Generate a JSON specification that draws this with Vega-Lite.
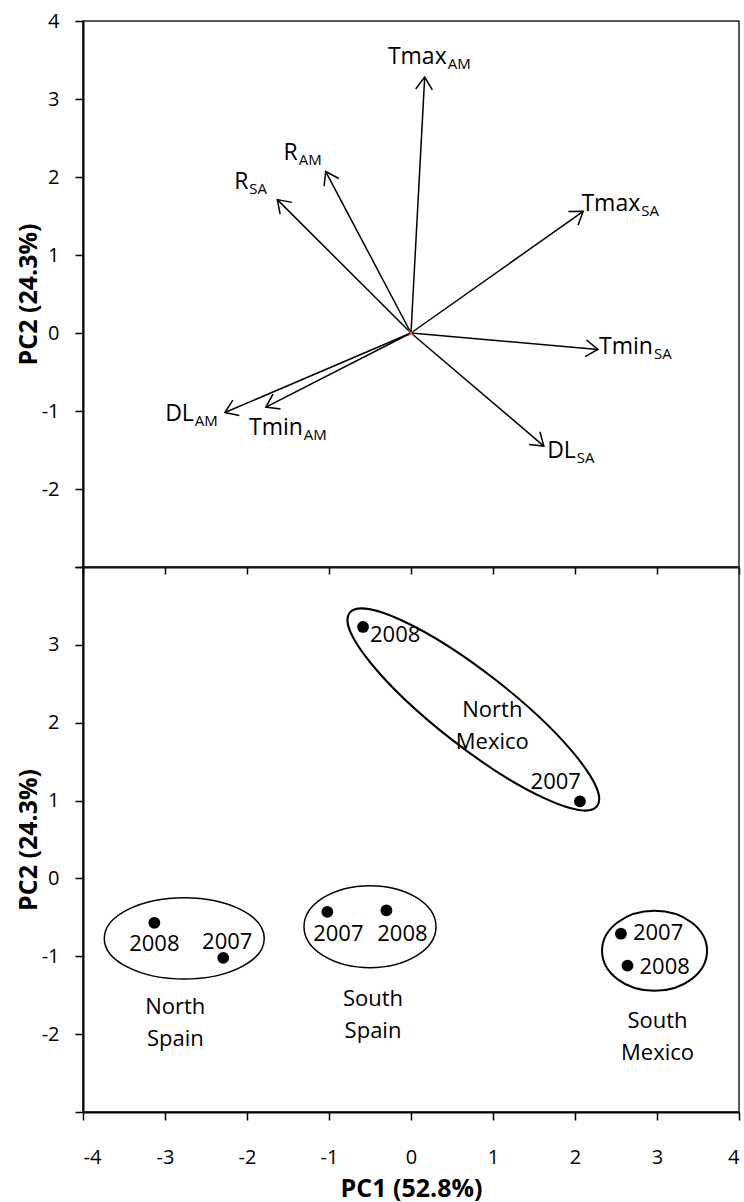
{
  "$schema": "https://vega.github.io/schema/vega-lite/v6.json",
  "padding": {"left": 15, "top": 10, "right": 0, "bottom": 0},
  "background": "white",
  "config": {
    "font": "Open Sans",
    "view": {"stroke": "#222222", "strokeWidth": 1.5},
    "axis": {
      "labelFont": "Open Sans", "labelFontSize": 20, "labelColor": "black",
      "titleFont": "Open Sans", "titleFontSize": 25, "titleFontWeight": "bold", "titleColor": "black",
      "tickColor": "black", "tickWidth": 1.5, "domainColor": "black", "domainWidth": 2,
      "grid": false
    },
    "text": {"font": "Open Sans", "color": "black"}
  },
  "datasets": {
    "loadings": [
      {"var": "Tmax_AM", "base": "Tmax", "sub": "AM", "x": 0.167, "y": 3.28},
      {"var": "Tmax_SA", "base": "Tmax", "sub": "SA", "x": 2.10, "y": 1.56},
      {"var": "R_AM", "base": "R", "sub": "AM", "x": -1.04, "y": 2.07},
      {"var": "R_SA", "base": "R", "sub": "SA", "x": -1.63, "y": 1.71},
      {"var": "DL_AM", "base": "DL", "sub": "AM", "x": -2.27, "y": -1.02},
      {"var": "Tmin_AM", "base": "Tmin", "sub": "AM", "x": -1.77, "y": -0.95},
      {"var": "Tmin_SA", "base": "Tmin", "sub": "SA", "x": 2.28, "y": -0.21},
      {"var": "DL_SA", "base": "DL", "sub": "SA", "x": 1.62, "y": -1.45}
    ],
    "scores": [
      {"region": "North Mexico", "year": "2008", "x": -0.585, "y": 3.23},
      {"region": "North Mexico", "year": "2007", "x": 2.06, "y": 0.99},
      {"region": "North Spain", "year": "2008", "x": -3.13, "y": -0.57},
      {"region": "North Spain", "year": "2007", "x": -2.29, "y": -1.02},
      {"region": "South Spain", "year": "2007", "x": -1.02, "y": -0.43},
      {"region": "South Spain", "year": "2008", "x": -0.30, "y": -0.41},
      {"region": "South Mexico", "year": "2007", "x": 2.56, "y": -0.71},
      {"region": "South Mexico", "year": "2008", "x": 2.64, "y": -1.12}
    ],
    "groups": [
      {"region": "North Mexico", "label": "North\nMexico", "x": 0.76, "y": 2.17},
      {"region": "North Spain", "label": "North\nSpain", "x": -2.765, "y": -0.77},
      {"region": "South Spain", "label": "South\nSpain", "x": -0.50, "y": -0.62},
      {"region": "South Mexico", "label": "South\nMexico", "x": 2.97, "y": -0.93}
    ]
  },
  "vconcat": [
    {
      "width": 656,
      "height": 546,
      "data": {"name": "loadings"},
      "encoding": {
        "x": {"field": "x", "type": "quantitative",
              "scale": {"domain": [-4, 4], "nice": false, "zero": false},
              "axis": {"values": [-4, -3, -2, -1, 0, 1, 2, 3, 4], "labels": false, "tickSize": 7, "title": null}},
        "y": {"field": "y", "type": "quantitative",
              "scale": {"domain": [-3, 4], "nice": false, "zero": false},
              "axis": {"values": [-3, -2, -1, 0, 1, 2, 3, 4], "tickSize": 8, "labelPadding": 16,
                       "labelExpr": "datum.value == -3 ? '' : toString(datum.value)",
                       "title": "PC2 (24.3%)", "titlePadding": 0}}
      },
      "layer": [
        {
          "mark": {"type": "rule", "color": "black", "strokeWidth": 1.5},
          "encoding": {"x2": {"datum": 0}, "y2": {"datum": 0}}
        },
        {
          "transform": [{"calculate": "atan2(-datum.y * 78, datum.x * 82) * 180 / PI", "as": "ang"}],
          "mark": {"type": "point", "shape": "M-1,-0.68L0,0L-1,0.68", "filled": false, "stroke": "black",
                   "strokeWidth": 1.5, "size": 600, "opacity": 1},
          "encoding": {"angle": {"field": "ang", "type": "quantitative", "scale": null}}
        },
        {
          "data": {"values": [{"x": 0, "y": 0}]},
          "mark": {"type": "point", "shape": "M-1,-1L1,1M-1,1L1,-1", "filled": false, "stroke": "#c0504d",
                   "strokeWidth": 1.2, "size": 30, "opacity": 1}
        },
        {
          "transform": [{"filter": "datum.var === 'Tmax_AM'"}],
          "layer": [
            {"mark": {"type": "text", "align": "right", "baseline": "alphabetic", "dx": 22, "dy": -13, "fontSize": 23}, "encoding": {"text": {"field": "base"}}},
            {"mark": {"type": "text", "align": "left", "baseline": "alphabetic", "dx": 23, "dy": -8, "fontSize": 15}, "encoding": {"text": {"field": "sub"}}}
          ]
        },
        {
          "transform": [{"filter": "datum.var === 'Tmax_SA'"}],
          "layer": [
            {"mark": {"type": "text", "align": "right", "baseline": "alphabetic", "dx": 57, "dy": 0, "fontSize": 23}, "encoding": {"text": {"field": "base"}}},
            {"mark": {"type": "text", "align": "left", "baseline": "alphabetic", "dx": 58, "dy": 5, "fontSize": 15}, "encoding": {"text": {"field": "sub"}}}
          ]
        },
        {
          "transform": [{"filter": "datum.var === 'R_AM'"}],
          "layer": [
            {"mark": {"type": "text", "align": "right", "baseline": "alphabetic", "dx": -28, "dy": -12, "fontSize": 23}, "encoding": {"text": {"field": "base"}}},
            {"mark": {"type": "text", "align": "left", "baseline": "alphabetic", "dx": -27, "dy": -7, "fontSize": 15}, "encoding": {"text": {"field": "sub"}}}
          ]
        },
        {
          "transform": [{"filter": "datum.var === 'R_SA'"}],
          "layer": [
            {"mark": {"type": "text", "align": "right", "baseline": "alphabetic", "dx": -29, "dy": -11, "fontSize": 23}, "encoding": {"text": {"field": "base"}}},
            {"mark": {"type": "text", "align": "left", "baseline": "alphabetic", "dx": -28, "dy": -6, "fontSize": 15}, "encoding": {"text": {"field": "sub"}}}
          ]
        },
        {
          "transform": [{"filter": "datum.var === 'DL_AM'"}],
          "layer": [
            {"mark": {"type": "text", "align": "right", "baseline": "alphabetic", "dx": -31, "dy": 8, "fontSize": 23}, "encoding": {"text": {"field": "base"}}},
            {"mark": {"type": "text", "align": "left", "baseline": "alphabetic", "dx": -30, "dy": 13, "fontSize": 15}, "encoding": {"text": {"field": "sub"}}}
          ]
        },
        {
          "transform": [{"filter": "datum.var === 'Tmin_AM'"}],
          "layer": [
            {"mark": {"type": "text", "align": "right", "baseline": "alphabetic", "dx": 37, "dy": 28, "fontSize": 23}, "encoding": {"text": {"field": "base"}}},
            {"mark": {"type": "text", "align": "left", "baseline": "alphabetic", "dx": 38, "dy": 33, "fontSize": 15}, "encoding": {"text": {"field": "sub"}}}
          ]
        },
        {
          "transform": [{"filter": "datum.var === 'Tmin_SA'"}],
          "layer": [
            {"mark": {"type": "text", "align": "right", "baseline": "alphabetic", "dx": 55, "dy": 5, "fontSize": 23}, "encoding": {"text": {"field": "base"}}},
            {"mark": {"type": "text", "align": "left", "baseline": "alphabetic", "dx": 56, "dy": 10, "fontSize": 15}, "encoding": {"text": {"field": "sub"}}}
          ]
        },
        {
          "transform": [{"filter": "datum.var === 'DL_SA'"}],
          "layer": [
            {"mark": {"type": "text", "align": "right", "baseline": "alphabetic", "dx": 32, "dy": 12, "fontSize": 23}, "encoding": {"text": {"field": "base"}}},
            {"mark": {"type": "text", "align": "left", "baseline": "alphabetic", "dx": 33, "dy": 17, "fontSize": 15}, "encoding": {"text": {"field": "sub"}}}
          ]
        },
        {
          "data": {"values": [{"panel": "a)"}]},
          "mark": {"type": "text", "align": "left", "baseline": "alphabetic", "fontSize": 23},
          "encoding": {"x": {"datum": -3.54}, "y": {"datum": 3.29}, "text": {"field": "panel"}}
        }
      ]
    },
    {
      "width": 656,
      "height": 545,
      "data": {"name": "scores"},
      "encoding": {
        "x": {"field": "x", "type": "quantitative",
              "scale": {"domain": [-4, 4], "nice": false, "zero": false},
              "axis": {"values": [-4, -3, -2, -1, 0, 1, 2, 3, 4], "tickSize": 8, "labelPadding": 27,
                       "labelExpr": "toString(datum.value)",
                       "title": "PC1 (52.8%)", "titlePadding": 9}},
        "y": {"field": "y", "type": "quantitative",
              "scale": {"domain": [-3, 4], "nice": false, "zero": false},
              "axis": {"values": [-3, -2, -1, 0, 1, 2, 3, 4], "tickSize": 8, "labelPadding": 16,
                       "labelExpr": "(datum.value == -3 || datum.value == 4) ? '' : toString(datum.value)",
                       "title": "PC2 (24.3%)", "titlePadding": 0}}
      },
      "layer": [
        {
          "data": {"name": "groups"},
          "transform": [{"filter": "datum.region === 'North Mexico'"}],
          "mark": {"type": "point", "shape": "M1,0C1,0.1302 0.5523,0.2357 0,0.2357C-0.5523,0.2357 -1,0.1302 -1,0C-1,-0.1302 -0.5523,-0.2357 0,-0.2357C0.5523,-0.2357 1,-0.1302 1,0Z",
                   "filled": false, "stroke": "black", "strokeWidth": 2, "size": 98596, "angle": 38, "opacity": 1}
        },
        {
          "data": {"name": "groups"},
          "transform": [{"filter": "datum.region === 'North Spain'"}],
          "mark": {"type": "point", "shape": "M1,0C1,0.2812 0.5523,0.509 0,0.509C-0.5523,0.509 -1,0.2812 -1,0C-1,-0.2812 -0.5523,-0.509 0,-0.509C0.5523,-0.509 1,-0.2812 1,0Z",
                   "filled": false, "stroke": "black", "strokeWidth": 1.5, "size": 25600, "opacity": 1}
        },
        {
          "data": {"name": "groups"},
          "transform": [{"filter": "datum.region === 'South Spain'"}],
          "mark": {"type": "point", "shape": "M1,0C1,0.343 0.5523,0.621 0,0.621C-0.5523,0.621 -1,0.343 -1,0C-1,-0.343 -0.5523,-0.621 0,-0.621C0.5523,-0.621 1,-0.343 1,0Z",
                   "filled": false, "stroke": "black", "strokeWidth": 1.5, "size": 17424, "opacity": 1}
        },
        {
          "data": {"name": "groups"},
          "transform": [{"filter": "datum.region === 'South Mexico'"}],
          "mark": {"type": "point", "shape": "M1,0C1,0.421 0.5523,0.762 0,0.762C-0.5523,0.762 -1,0.421 -1,0C-1,-0.421 -0.5523,-0.762 0,-0.762C0.5523,-0.762 1,-0.421 1,0Z",
                   "filled": false, "stroke": "black", "strokeWidth": 2, "size": 11025, "opacity": 1}
        },
        {
          "mark": {"type": "point", "shape": "circle", "filled": true, "color": "black", "size": 140, "opacity": 1}
        },
        {
          "transform": [{"filter": "datum.region === 'North Mexico' && datum.year === '2008'"}],
          "mark": {"type": "text", "align": "left", "baseline": "alphabetic", "dx": 7, "dy": 15, "fontSize": 22},
          "encoding": {"text": {"field": "year"}}
        },
        {
          "transform": [{"filter": "datum.region === 'North Mexico' && datum.year === '2007'"}],
          "mark": {"type": "text", "align": "right", "baseline": "alphabetic", "dx": 1, "dy": -12, "fontSize": 22},
          "encoding": {"text": {"field": "year"}}
        },
        {
          "transform": [{"filter": "datum.region === 'North Spain' && datum.year === '2008'"}],
          "mark": {"type": "text", "align": "center", "baseline": "alphabetic", "dx": 0, "dy": 28, "fontSize": 22},
          "encoding": {"text": {"field": "year"}}
        },
        {
          "transform": [{"filter": "datum.region === 'North Spain' && datum.year === '2007'"}],
          "mark": {"type": "text", "align": "center", "baseline": "alphabetic", "dx": 4, "dy": -9, "fontSize": 22},
          "encoding": {"text": {"field": "year"}}
        },
        {
          "transform": [{"filter": "datum.region === 'South Spain' && datum.year === '2007'"}],
          "mark": {"type": "text", "align": "center", "baseline": "alphabetic", "dx": 11, "dy": 29, "fontSize": 22},
          "encoding": {"text": {"field": "year"}}
        },
        {
          "transform": [{"filter": "datum.region === 'South Spain' && datum.year === '2008'"}],
          "mark": {"type": "text", "align": "center", "baseline": "alphabetic", "dx": 16, "dy": 31, "fontSize": 22},
          "encoding": {"text": {"field": "year"}}
        },
        {
          "transform": [{"filter": "datum.region === 'South Mexico' && datum.year === '2007'"}],
          "mark": {"type": "text", "align": "left", "baseline": "alphabetic", "dx": 12, "dy": 6, "fontSize": 22},
          "encoding": {"text": {"field": "year"}}
        },
        {
          "transform": [{"filter": "datum.region === 'South Mexico' && datum.year === '2008'"}],
          "mark": {"type": "text", "align": "left", "baseline": "alphabetic", "dx": 12, "dy": 8, "fontSize": 22},
          "encoding": {"text": {"field": "year"}}
        },
        {
          "data": {"name": "groups"},
          "transform": [{"filter": "datum.region === 'North Mexico'"}],
          "mark": {"type": "text", "align": "center", "baseline": "alphabetic", "dx": 19, "dy": 8, "fontSize": 22, "lineBreak": "\n", "lineHeight": 32},
          "encoding": {"text": {"field": "label"}}
        },
        {
          "data": {"name": "groups"},
          "transform": [{"filter": "datum.region === 'North Spain'"}],
          "mark": {"type": "text", "align": "center", "baseline": "alphabetic", "dx": -9, "dy": 76, "fontSize": 22, "lineBreak": "\n", "lineHeight": 32},
          "encoding": {"text": {"field": "label"}}
        },
        {
          "data": {"name": "groups"},
          "transform": [{"filter": "datum.region === 'South Spain'"}],
          "mark": {"type": "text", "align": "center", "baseline": "alphabetic", "dx": 3, "dy": 79, "fontSize": 22, "lineBreak": "\n", "lineHeight": 32},
          "encoding": {"text": {"field": "label"}}
        },
        {
          "data": {"name": "groups"},
          "transform": [{"filter": "datum.region === 'South Mexico'"}],
          "mark": {"type": "text", "align": "center", "baseline": "alphabetic", "dx": 3, "dy": 77, "fontSize": 22, "lineBreak": "\n", "lineHeight": 32},
          "encoding": {"text": {"field": "label"}}
        },
        {
          "data": {"values": [{"panel": "b)"}]},
          "mark": {"type": "text", "align": "left", "baseline": "alphabetic", "fontSize": 23},
          "encoding": {"x": {"datum": -3.62}, "y": {"datum": 3.23}, "text": {"field": "panel"}}
        }
      ]
    }
  ],
  "spacing": 0,
  "bounds": "flush"
}
